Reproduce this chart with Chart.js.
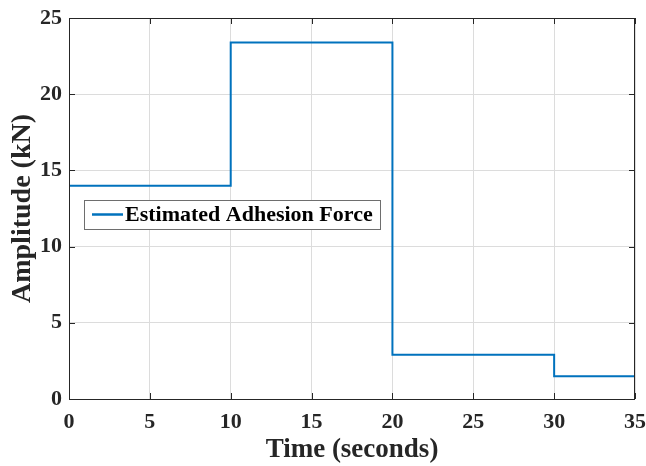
<!DOCTYPE html>
<html>
<head>
<meta charset="utf-8">
<script src="https://cdn.jsdelivr.net/npm/chart.js@4"></script>
<style>
  html, body { margin: 0; padding: 0; background: #fff; }
  #wrap { width: 646px; height: 466px; }
</style>
</head>
<body>
<div id="wrap"><canvas id="adhesion"></canvas></div>
<script>
"use strict"

// step changes of the estimated force: time (s) and level (kN)
const stepTimes = [0, 0, 10, 10, 20, 20, 30, 30, 35];
const forceKN   = [0, 14, 14, 23.4, 23.4, 2.9, 2.9, 1.5, 1.5];
const xTicks = [0, 5, 10, 15, 20, 25, 30, 35];
const yTicks = [0, 5, 10, 15, 20, 25];
const seriesName = 'Estimated Adhesion Force';

const FONT = "'Liberation Serif', 'Times New Roman', serif";
const lineColor = '#0072BD';

const points = stepTimes.map((t, i) => ({ x: t, y: forceKN[i] }));

// axes box, inward ticks and legend drawn MATLAB style
const matlabBox = {
    id: 'matlabBox',
    afterDraw(chart) {
        const ctx = chart.ctx;
        const a = chart.chartArea;
        const xs = chart.scales.x, ys = chart.scales.y;
        ctx.save();
        ctx.strokeStyle = '#262626';
        ctx.lineWidth = 1;
        ctx.strokeRect(a.left + 0.5, a.top + 0.5, a.right - a.left - 1, a.bottom - a.top);
        ctx.beginPath();
        xTicks.forEach(v => {
            const px = Math.round(xs.getPixelForValue(v)) + 0.5;
            ctx.moveTo(px, a.bottom); ctx.lineTo(px, a.bottom - 6);
            ctx.moveTo(px, a.top); ctx.lineTo(px, a.top + 6);
        });
        yTicks.forEach(v => {
            const py = Math.round(ys.getPixelForValue(v)) + 0.5;
            ctx.moveTo(a.left, py); ctx.lineTo(a.left + 6, py);
            ctx.moveTo(a.right, py); ctx.lineTo(a.right - 6, py);
        });
        ctx.stroke();

        // legend
        const lx = a.left + 15, ly = 200, lw = 296, lh = 29;
        ctx.fillStyle = '#fff';
        ctx.fillRect(lx, ly, lw, lh);
        ctx.strokeStyle = '#6e6e6e';
        ctx.strokeRect(lx + 0.5, ly + 0.5, lw, lh);
        ctx.strokeStyle = lineColor;
        ctx.lineWidth = 2.5;
        ctx.beginPath();
        ctx.moveTo(lx + 8, ly + 14.5); ctx.lineTo(lx + 39, ly + 14.5);
        ctx.stroke();
        ctx.fillStyle = '#000';
        ctx.font = "bold 22px " + FONT;
        ctx.textBaseline = 'middle';
        ctx.fillText(seriesName, lx + 41, ly + 15.5);
        ctx.restore();
    }
};

new Chart(document.getElementById('adhesion'), {
    type: 'line',
    data: {
        datasets: [{
            label: seriesName,
            data: points,
            borderColor: lineColor,
            borderWidth: 2,
            pointRadius: 0,
            fill: false,
            tension: 0
        }]
    },
    options: {
        responsive: true,
        maintainAspectRatio: false,
        animation: false,
        layout: { padding: { top: 18, right: 11, left: 0, bottom: 0 } },
        plugins: {
            legend: { display: false },
            tooltip: { enabled: false }
        },
        scales: {
            x: {
                type: 'linear',
                min: 0, max: 35,
                afterBuildTicks: s => { s.ticks = xTicks.map(v => ({ value: v })); },
                afterFit: s => { s.height = 67; s.paddingLeft = 0; s.paddingRight = 0; },
                grid: { color: '#dcdcdc', drawTicks: false },
                border: { display: false },
                ticks: { color: '#262626', padding: 10, maxRotation: 0,
                         font: { family: FONT, size: 22, weight: 'bold' } },
                title: { display: true, text: 'Time (seconds)', color: '#262626',
                         padding: { top: 2, bottom: 0 },
                         font: { family: FONT, size: 27, weight: 'bold' } }
            },
            y: {
                min: 0, max: 25,
                afterBuildTicks: s => { s.ticks = yTicks.map(v => ({ value: v })); },
                afterFit: s => { s.width = 69; s.paddingTop = 0; s.paddingBottom = 0; },
                grid: { color: '#dcdcdc', drawTicks: false },
                border: { display: false },
                ticks: { color: '#262626', padding: 7,
                         font: { family: FONT, size: 22, weight: 'bold' } },
                title: { display: true, text: 'Amplitude (kN)', color: '#262626',
                         padding: { top: 6, bottom: 0 },
                         font: { family: FONT, size: 28, weight: 'bold' } }
            }
        }
    },
    plugins: [matlabBox]
});
</script>
</body>
</html>
